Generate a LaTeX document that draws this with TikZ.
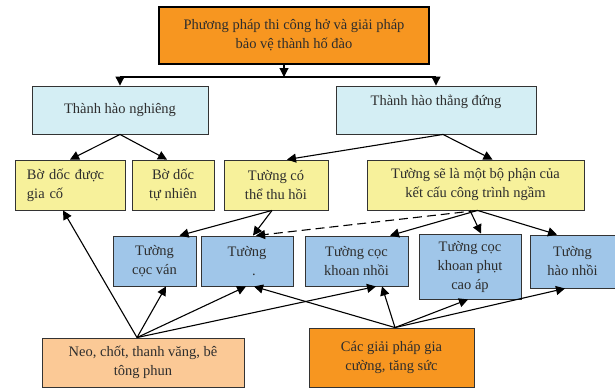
\documentclass[tikz,border=0pt]{standalone}
\usepackage{fontspec}
\setmainfont{Liberation Serif}
\usetikzlibrary{arrows.meta, positioning}
\definecolor{cam}{RGB}{247,150,32}
\definecolor{xanhnhat}{RGB}{212,238,244}
\definecolor{vang}{RGB}{247,241,155}
\definecolor{xanh}{RGB}{160,198,233}
\definecolor{dao}{RGB}{251,201,150}
\definecolor{chu}{RGB}{45,45,45}
\tikzset{hop/.style={draw=black!80, line width=0.9pt, text=chu, align=center, inner sep=1pt, font=\fontsize{14.5}{19}\selectfont},
  mui/.style={-{Triangle[length=9pt,width=9pt]}, line width=1.1pt},
  ruot/.style={line width=1.1pt}}
\begin{document}
\begin{tikzpicture}[x=1pt,y=-1pt]
                 \useasboundingbox (0,0) rectangle (615,388);

                 \node[hop, fill=cam, draw=black, line width=2pt, minimum width=270, minimum height=57] (top) at (294,35.5) {Phương pháp thi công hở và giải pháp\\bảo vệ thành hố đào};

                 \node[hop, fill=xanhnhat, minimum width=176, minimum height=48] (ngh) at (120,110) {Thành hào nghiêng};
                 \node[hop, fill=xanhnhat, minimum width=200, minimum height=48] (dung) at (436,110) {Thành hào thẳng đứng\\\mbox{}};

                 \node[hop, fill=vang, minimum width=110, minimum height=50, text width=86, align=left] (gaco) at (70,185) {Bờ dốc được\\gia cố};
                 \node[hop, fill=vang, minimum width=82, minimum height=50] (tunhien) at (173,185) {Bờ dốc\\tự nhiên};
                 \node[hop, fill=vang, minimum width=104, minimum height=50] (thuhoi) at (276,185) {Tường có\\thể thu hồi};
                 \node[hop, fill=vang, minimum width=217, minimum height=50] (ngam) at (475.5,185) {Tường sẽ là một bộ phận của\\kết cấu công trình ngầm};

                 \node[hop, fill=xanh, minimum width=83, minimum height=50] (vay) at (154.5,261) {Tường\\cọc ván};
                 \node[hop, fill=xanh, minimum width=92, minimum height=50] (tuong) at (247,261) {Tường\\\hspace{14pt}.};
                 \node[hop, fill=xanh, minimum width=103, minimum height=50] (knhoi) at (356.5,261) {Tường cọc\\khoan nhồi};
                 \node[hop, fill=xanh, minimum width=102, minimum height=65] (kphut) at (470,266.5) {Tường cọc\\khoan phụt\\cao áp};
                 \node[hop, fill=xanh, minimum width=85, minimum height=53] (hao) at (572.5,261.5) {Tường\\hào nhồi};

                 \node[hop, fill=dao, minimum width=202, minimum height=49] (neo) at (143,362.5) {Neo, chốt, thanh văng, bê\\tông phun};
                 \node[hop, fill=cam, minimum width=165, minimum height=59] (giaco) at (391.5,357.5) {Các giải pháp gia\\cường, tăng sức};

                 % nhanh tren cung
                 \coordinate (chia) at (284,77);
                 \draw[mui] (top.south -| chia) -- (chia);
                 \draw[ruot] (ngh.north |- chia) -- (dung.north |- chia);
                 \draw[mui] (ngh.north |- chia) -- (ngh.north);
                 \draw[mui] (dung.north |- chia) -- (dung.north);

                 \draw[mui] (ngh.south) -- (gaco.north);
                 \draw[mui] (ngh.south) -- ([xshift=-6]tunhien.north);
                 \draw[mui] ([xshift=7]dung.south) -- ([xshift=11]thuhoi.north);
                 \draw[mui] ([xshift=7]dung.south) -- ([xshift=17]ngam.north);

                 \draw[mui] ([xshift=-4]thuhoi.south) -- ([xshift=25]vay.north);
                 \draw[mui] ([xshift=-4]thuhoi.south) -- ([xshift=6]tuong.north);
                 \draw[mui, dashed, dash pattern=on 9pt off 5pt] ([xshift=2]ngam.south) -- ([xshift=9]tuong.north);
                 \draw[mui] ([xshift=2]ngam.south) -- ([xshift=33.5]knhoi.north);
                 \draw[mui] (kphut.north |- ngam.south) -- ([xshift=11]kphut.north);
                 \draw[mui] ([xshift=2]ngam.south) -- ([xshift=-15.5]hao.north);

                 % tu duoi len
                 \draw[mui] ([xshift=-6]neo.north) -- ([xshift=-7]gaco.south);
                 \draw[mui] ([xshift=-6]neo.north) -- ([xshift=11.5]vay.south);
                 \draw[mui] ([xshift=-6]neo.north) -- ([xshift=-1]tuong.south);
                 \draw[mui] ([xshift=-6]neo.north) -- ([xshift=19.5]knhoi.south);

                 \draw[mui] ([xshift=3.5]giaco.north) -- ([xshift=7]tuong.south);
                 \draw[mui] ([xshift=3.5]giaco.north) -- ([xshift=25.5]knhoi.south);
                 \draw[mui] ([xshift=3.5]giaco.north) -- ([xshift=-2]kphut.south);
                 \draw[mui] ([xshift=3.5]giaco.north) -- ([xshift=-7.5]hao.south);
\end{tikzpicture}
\end{document}
